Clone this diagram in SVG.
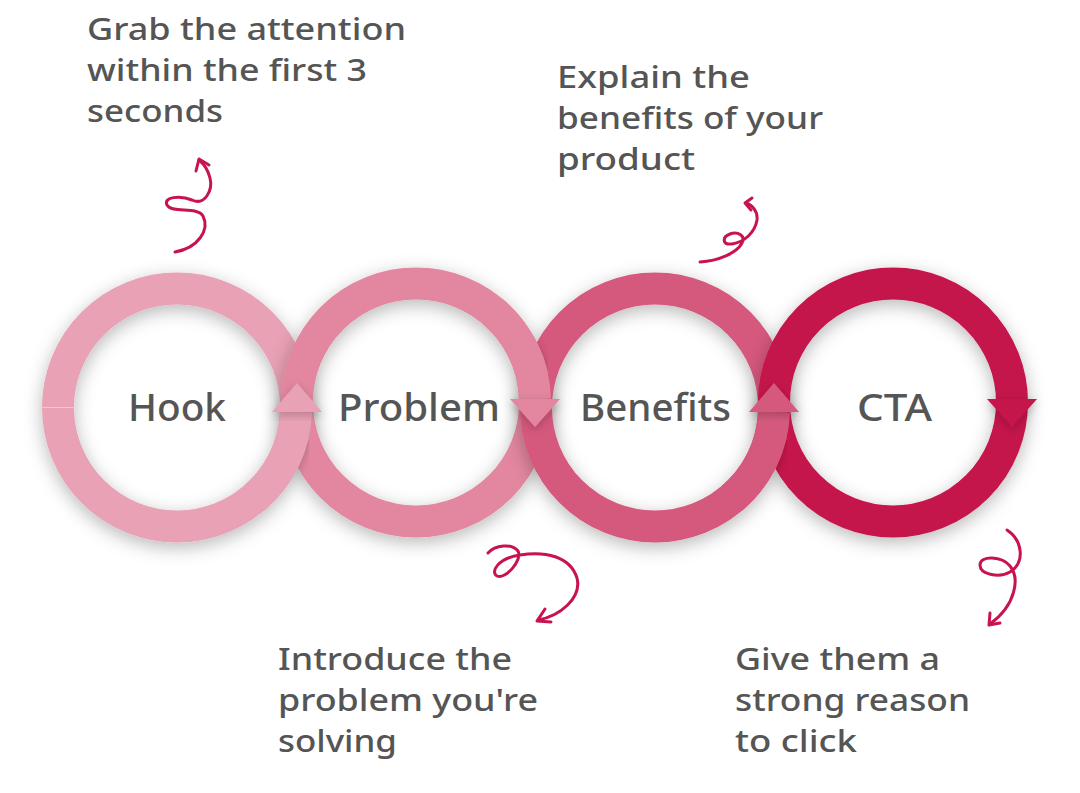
<svg xmlns="http://www.w3.org/2000/svg" width="1080" height="793" viewBox="0 0 1080 793">
  <defs>
    <filter id="sh" x="-30%" y="-30%" width="160%" height="160%">
      <feDropShadow dx="0" dy="5" stdDeviation="9" flood-color="#000" flood-opacity="0.28"/>
    </filter>
    <filter id="sh2" x="-30%" y="-30%" width="160%" height="160%">
      <feDropShadow dx="0" dy="3" stdDeviation="5" flood-color="#000" flood-opacity="0.22"/>
    </filter>
    <clipPath id="cpProb">
      <path clip-rule="evenodd" d="M281,402.5 a135,135 0 1,0 270,0 a135,135 0 1,0 -270,0 Z M313,402.5 a103,103 0 1,0 206,0 a103,103 0 1,0 -206,0 Z"/>
    </clipPath>
    <clipPath id="cpBene">
      <path clip-rule="evenodd" d="M520,407.5 a135,135 0 1,0 270,0 a135,135 0 1,0 -270,0 Z M552,407.5 a103,103 0 1,0 206,0 a103,103 0 1,0 -206,0 Z"/>
    </clipPath>
    <clipPath id="cpCta">
      <path clip-rule="evenodd" d="M758,402.5 a135,135 0 1,0 270,0 a135,135 0 1,0 -270,0 Z M790,402.5 a103,103 0 1,0 206,0 a103,103 0 1,0 -206,0 Z"/>
    </clipPath>
  </defs>
  <style>
    .ring { fill: none; stroke-width: 32; }
    .hook { stroke: #E8A1B5; }
    .prob { stroke: #E2879F; }
    .bene { stroke: #D5587D; }
    .cta  { stroke: #C4134C; }
    .label { font-family: "Noto Sans", "Open Sans", sans-serif; font-size: 38px; font-weight: 500; fill: #555555; text-anchor: middle; }
    .note { font-family: "Noto Sans", "Open Sans", sans-serif; font-size: 31px; font-weight: 500; fill: #555555; }
    .sq { fill: none; stroke: #C8134F; stroke-width: 3; stroke-linecap: round; stroke-linejoin: round; }
  </style>
  <rect width="1080" height="793" fill="#ffffff"/>

  <g id="connectors">
    <!-- Hook full ring -->
    <circle class="ring hook" cx="177" cy="407.5" r="119" filter="url(#sh)"/>
    <line x1="42" y1="407.5" x2="74" y2="407.5" stroke="#F2C6D2" stroke-width="1"/>
    <!-- Problem full ring -->
    <circle class="ring prob" cx="416" cy="402.5" r="119" filter="url(#sh)"/>
    <!-- Hook lower-right arc with up arrow (over Problem) -->
    <g clip-path="url(#cpProb)">
      <g filter="url(#sh2)">
        <path class="ring hook" d="M253.5,498.7 A119,119 0 0 0 296,412"/>
      </g>
    </g>
    <path class="ring hook" d="M253.5,498.7 A119,119 0 0 0 296,412"/>
    <polygon points="272,412 322,412 297,383" fill="#E8A1B5" filter="url(#sh2)"/>

    <!-- Benefits full ring -->
    <circle class="ring bene" cx="655" cy="407.5" r="119" filter="url(#sh)"/>
    <!-- Problem upper-right arc with down arrow (over Benefits) -->
    <g clip-path="url(#cpBene)">
      <g filter="url(#sh2)">
        <path class="ring prob" d="M492.5,311.3 A119,119 0 0 1 535,399"/>
      </g>
    </g>
    <path class="ring prob" d="M492.5,311.3 A119,119 0 0 1 535,399"/>
    <polygon points="510,399 560,399 535,427" fill="#E2879F" filter="url(#sh2)"/>

    <!-- CTA full ring -->
    <circle class="ring cta" cx="893" cy="402.5" r="119" filter="url(#sh)"/>
    <!-- Benefits lower-right arc with up arrow (over CTA) -->
    <g clip-path="url(#cpCta)">
      <g filter="url(#sh2)">
        <path class="ring bene" d="M731.5,498.7 A119,119 0 0 0 774,412"/>
      </g>
    </g>
    <path class="ring bene" d="M731.5,498.7 A119,119 0 0 0 774,412"/>
    <polygon points="749,412 799,412 774,383" fill="#D5587D" filter="url(#sh2)"/>

    <!-- CTA down arrow -->
    <polygon points="987,399 1037,399 1012,427" fill="#C4134C" filter="url(#sh2)"/>

    <!-- squiggle arrows -->
    <path class="sq" d="M175,252 C198,248 210,230 203,216 C197,206 172,214 167,205 C163,197 180,195 192,200 C205,206 213,190 210,178 C208,170 204,164 199,160"/>
    <path class="sq" d="M196,171 L199,159 L209,165"/>
    <path class="sq" d="M700,262 C718,261 737,253 742,243 C746,236 738,231 730,234 C722,237 722,245 732,244 C745,242 755,232 757,220 C758,211 752,205 746,203"/>
    <path class="sq" d="M752,198 L745,203 L751,210"/>
    <path class="sq" d="M488,553 C495,545 512,543 518,551 C523,560 505,580 497,576 C490,572 498,558 520,555 C545,551 570,556 577,578 C582,598 560,616 538,620"/>
    <path class="sq" d="M545,609 L537,621 L551,622"/>
    <path class="sq" d="M1007,530 C1022,540 1026,562 1010,572 C1000,578 980,575 980,565 C980,555 1002,556 1010,566 C1020,578 1016,605 990,624"/>
    <path class="sq" d="M990,613 L989,625 L1000,623"/>
  </g>

  <g id="node-hook">
    <text class="label" x="177" y="421" textLength="98" lengthAdjust="spacingAndGlyphs">Hook</text>
  </g>
  <g id="node-problem">
    <text class="label" x="419" y="421" textLength="162" lengthAdjust="spacingAndGlyphs">Problem</text>
  </g>
  <g id="node-benefits">
    <text class="label" x="655.5" y="421" textLength="151" lengthAdjust="spacingAndGlyphs">Benefits</text>
  </g>
  <g id="node-cta">
    <text class="label" x="894.5" y="421" textLength="75" lengthAdjust="spacingAndGlyphs">CTA</text>
  </g>

  <g id="note-hook">
    <text class="note" x="87" y="40" textLength="319" lengthAdjust="spacingAndGlyphs">Grab the attention</text>
    <text class="note" x="87" y="81" textLength="280" lengthAdjust="spacingAndGlyphs">within the first 3</text>
    <text class="note" x="87" y="122" textLength="136" lengthAdjust="spacingAndGlyphs">seconds</text>
  </g>
  <g id="note-benefits">
    <text class="note" x="557" y="88" textLength="193" lengthAdjust="spacingAndGlyphs">Explain the</text>
    <text class="note" x="557" y="129" textLength="266" lengthAdjust="spacingAndGlyphs">benefits of your</text>
    <text class="note" x="557" y="170" textLength="138" lengthAdjust="spacingAndGlyphs">product</text>
  </g>
  <g id="note-problem">
    <text class="note" x="278" y="670" textLength="234" lengthAdjust="spacingAndGlyphs">Introduce the</text>
    <text class="note" x="278" y="711" textLength="260" lengthAdjust="spacingAndGlyphs">problem you're</text>
    <text class="note" x="278" y="752" textLength="119" lengthAdjust="spacingAndGlyphs">solving</text>
  </g>
  <g id="note-cta">
    <text class="note" x="735" y="670" textLength="205" lengthAdjust="spacingAndGlyphs">Give them a</text>
    <text class="note" x="735" y="711" textLength="235" lengthAdjust="spacingAndGlyphs">strong reason</text>
    <text class="note" x="735" y="752" textLength="122" lengthAdjust="spacingAndGlyphs">to click</text>
  </g>
</svg>
